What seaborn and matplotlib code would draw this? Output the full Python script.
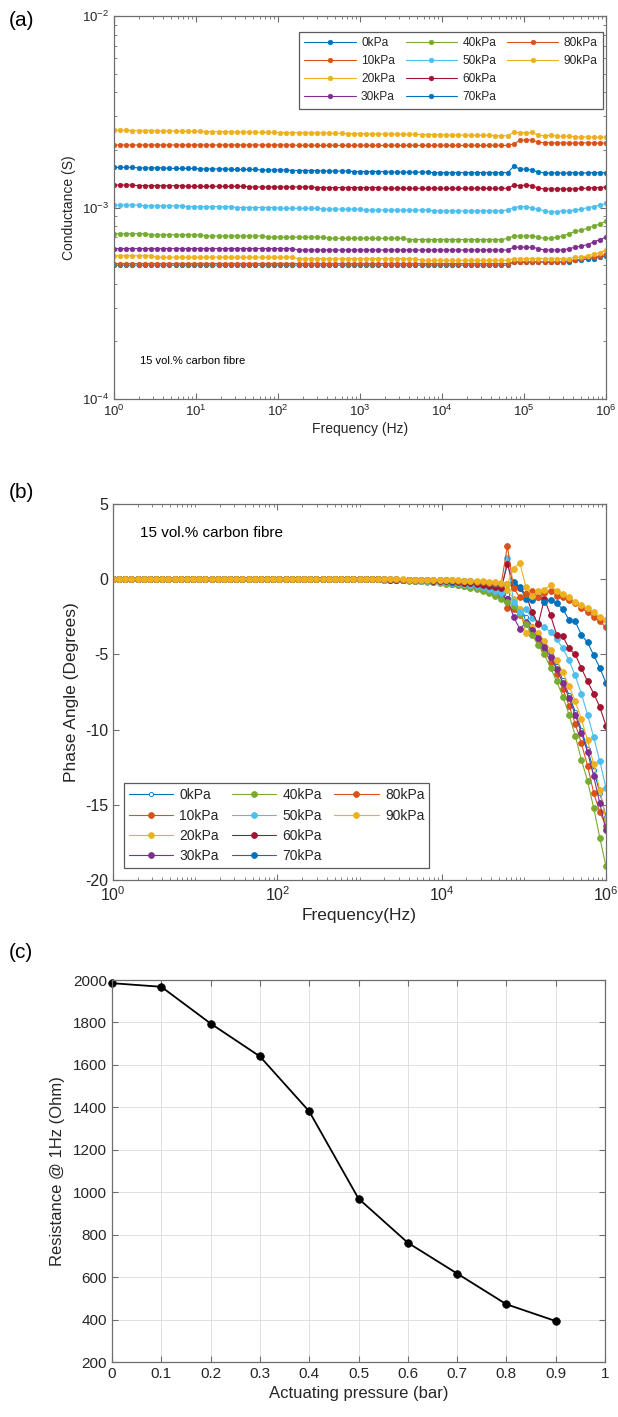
import numpy as np
import matplotlib
matplotlib.use("Agg")
import matplotlib.pyplot as plt
from matplotlib.lines import Line2D
import seaborn as sns
from matplotlib.ticker import (LogLocator, NullFormatter, FixedLocator,
                               LogFormatterSciNotation, MultipleLocator,
                               FuncFormatter)

# ---------------------------------------------------------------- data
# frequency sweep (log-spaced, 1 Hz .. 1 MHz)
freq_hz = np.logspace(0, 6, 81)

pressure_kpa = [0, 10, 20, 30, 40, 50, 60, 70, 80, 90]
series_labels = [f"{p}kPa" for p in pressure_kpa]
line_colors = ["#0072BD", "#D95319", "#EDB120", "#7E2F8E", "#77AC30",
               "#4DBEEE", "#A2142F", "#0072BD", "#D95319", "#EDB120"]

# conductance, mS
g_0kpa = [
    0.50, 0.50, 0.50, 0.50, 0.50, 0.50, 0.50, 0.50, 0.50, 0.50,
    0.50, 0.50, 0.50, 0.50, 0.50, 0.50, 0.50, 0.50, 0.50, 0.50,
    0.50, 0.50, 0.50, 0.50, 0.50, 0.50, 0.50, 0.50, 0.50, 0.50,
    0.50, 0.50, 0.50, 0.50, 0.50, 0.50, 0.50, 0.50, 0.50, 0.50,
    0.50, 0.50, 0.50, 0.50, 0.50, 0.50, 0.50, 0.50, 0.50, 0.50,
    0.50, 0.50, 0.50, 0.50, 0.50, 0.50, 0.50, 0.50, 0.50, 0.50,
    0.50, 0.50, 0.50, 0.50, 0.50,
    0.52, 0.52, 0.52, 0.52, 0.52, 0.52,
    0.52, 0.52, 0.52, 0.52, 0.53, 0.53, 0.54, 0.54, 0.55, 0.56]
g_10kpa = [
    0.51, 0.51, 0.51, 0.51, 0.51, 0.51, 0.51, 0.51, 0.51, 0.51,
    0.51, 0.51, 0.51, 0.51, 0.51, 0.51, 0.51, 0.51, 0.51, 0.51,
    0.51, 0.51, 0.51, 0.51, 0.51, 0.51, 0.51, 0.51, 0.51, 0.51,
    0.51, 0.51, 0.51, 0.51, 0.51, 0.51, 0.51, 0.51, 0.51, 0.51,
    0.51, 0.51, 0.51, 0.51, 0.51, 0.51, 0.51, 0.51, 0.51, 0.51,
    0.51, 0.51, 0.51, 0.51, 0.51, 0.51, 0.51, 0.51, 0.51, 0.51,
    0.51, 0.51, 0.51, 0.51, 0.51,
    0.52, 0.52, 0.52, 0.52, 0.52, 0.52,
    0.52, 0.52, 0.52, 0.53, 0.53, 0.54, 0.55, 0.55, 0.56, 0.57]
g_20kpa = [
    0.56, 0.56, 0.56, 0.56, 0.56, 0.56, 0.56, 0.55, 0.55, 0.55,
    0.55, 0.55, 0.55, 0.55, 0.55, 0.55, 0.55, 0.55, 0.55, 0.55,
    0.55, 0.55, 0.55, 0.55, 0.55, 0.55, 0.55, 0.55, 0.55, 0.55,
    0.54, 0.54, 0.54, 0.54, 0.54, 0.54, 0.54, 0.54, 0.54, 0.54,
    0.54, 0.54, 0.54, 0.54, 0.54, 0.54, 0.54, 0.54, 0.54, 0.54,
    0.53, 0.53, 0.53, 0.53, 0.53, 0.53, 0.53, 0.53, 0.53, 0.53,
    0.53, 0.53, 0.53, 0.53, 0.53,
    0.54, 0.54, 0.54, 0.54,
    0.54, 0.54, 0.54, 0.54, 0.54, 0.54, 0.55, 0.55, 0.56, 0.57, 0.58, 0.60]
g_30kpa = [
    0.61, 0.61, 0.61, 0.61, 0.61, 0.61, 0.61, 0.61, 0.61, 0.61,
    0.61, 0.61, 0.61, 0.61, 0.61, 0.61, 0.61, 0.61, 0.61, 0.61,
    0.61, 0.61, 0.61, 0.61, 0.61, 0.61, 0.61, 0.61, 0.61, 0.61,
    0.60, 0.60, 0.60, 0.60, 0.60, 0.60, 0.60, 0.60, 0.60, 0.60,
    0.60, 0.60, 0.60, 0.60, 0.60, 0.60, 0.60, 0.60, 0.60, 0.60,
    0.60, 0.60, 0.60, 0.60, 0.60, 0.60, 0.60, 0.60, 0.60, 0.60,
    0.60, 0.60, 0.60, 0.60, 0.60,
    0.62, 0.62, 0.62, 0.62,
    0.61, 0.60, 0.60, 0.60, 0.60, 0.61, 0.62, 0.63, 0.64, 0.66, 0.68, 0.70]
g_40kpa = [
    0.73, 0.73, 0.73, 0.73, 0.73, 0.73, 0.72, 0.72, 0.72, 0.72,
    0.72, 0.72, 0.72, 0.72, 0.72, 0.71, 0.71, 0.71, 0.71, 0.71,
    0.71, 0.71, 0.71, 0.71, 0.71, 0.70, 0.70, 0.70, 0.70, 0.70,
    0.70, 0.70, 0.70, 0.70, 0.70, 0.69, 0.69, 0.69, 0.69, 0.69,
    0.69, 0.69, 0.69, 0.69, 0.69, 0.69, 0.69, 0.69, 0.68, 0.68,
    0.68, 0.68, 0.68, 0.68, 0.68, 0.68, 0.68, 0.68, 0.68, 0.68,
    0.68, 0.68, 0.68, 0.68, 0.69,
    0.71, 0.71, 0.71, 0.71,
    0.70, 0.69, 0.69, 0.70, 0.71, 0.73, 0.75, 0.76, 0.78, 0.80, 0.82, 0.85]
g_50kpa = [
    1.03, 1.03, 1.03, 1.03, 1.03, 1.02, 1.02, 1.02, 1.02, 1.02,
    1.02, 1.02, 1.01, 1.01, 1.01, 1.01, 1.01, 1.01, 1.01, 1.01,
    1.00, 1.00, 1.00, 1.00, 1.00, 1.00, 1.00, 0.99, 0.99, 0.99,
    0.99, 0.99, 0.99, 0.99, 0.98, 0.98, 0.98, 0.98, 0.98, 0.98,
    0.98, 0.97, 0.97, 0.97, 0.97, 0.97, 0.97, 0.97, 0.97, 0.97,
    0.97, 0.97, 0.96, 0.96, 0.96, 0.96, 0.96, 0.96, 0.96, 0.96,
    0.96, 0.96, 0.96, 0.96, 0.97,
    1.00, 1.01, 1.01, 0.99,
    0.98, 0.96, 0.95, 0.95, 0.96, 0.96, 0.97, 0.98, 1.00, 1.01, 1.03, 1.05]
g_60kpa = [
    1.31, 1.31, 1.31, 1.31, 1.30, 1.30, 1.30, 1.30, 1.30, 1.30,
    1.30, 1.30, 1.29, 1.29, 1.29, 1.29, 1.29, 1.29, 1.29, 1.29,
    1.29, 1.29, 1.28, 1.28, 1.28, 1.28, 1.28, 1.28, 1.28, 1.28,
    1.28, 1.28, 1.28, 1.27, 1.27, 1.27, 1.27, 1.27, 1.27, 1.27,
    1.27, 1.27, 1.27, 1.27, 1.26, 1.26, 1.26, 1.26, 1.26, 1.26,
    1.26, 1.26, 1.26, 1.26, 1.26, 1.26, 1.26, 1.26, 1.26, 1.26,
    1.26, 1.26, 1.26, 1.26, 1.26,
    1.31, 1.30, 1.31, 1.30,
    1.26, 1.25, 1.25, 1.25, 1.25, 1.25, 1.25, 1.26, 1.26, 1.27, 1.27, 1.28]
g_70kpa = [
    1.62, 1.62, 1.62, 1.62, 1.61, 1.61, 1.61, 1.61, 1.61, 1.60,
    1.60, 1.60, 1.60, 1.60, 1.59, 1.59, 1.59, 1.59, 1.59, 1.58,
    1.58, 1.58, 1.58, 1.58, 1.57, 1.57, 1.57, 1.57, 1.57, 1.56,
    1.56, 1.56, 1.56, 1.56, 1.55, 1.55, 1.55, 1.55, 1.55, 1.54,
    1.54, 1.54, 1.54, 1.54, 1.54, 1.53, 1.53, 1.53, 1.53, 1.53,
    1.53, 1.53, 1.52, 1.52, 1.52, 1.52, 1.52, 1.52, 1.52, 1.52,
    1.52, 1.52, 1.52, 1.52, 1.52,
    1.64, 1.59, 1.58, 1.57,
    1.53, 1.52, 1.51, 1.52, 1.51, 1.52, 1.52, 1.51, 1.52, 1.52, 1.52, 1.52]
g_80kpa = [
    2.12, 2.12, 2.12, 2.12, 2.12, 2.12, 2.12, 2.12, 2.12, 2.12,
    2.12, 2.12, 2.12, 2.12, 2.12, 2.12, 2.12, 2.12, 2.12, 2.12,
    2.12, 2.12, 2.12, 2.12, 2.12, 2.12, 2.12, 2.12, 2.12, 2.12,
    2.11, 2.11, 2.11, 2.11, 2.11, 2.11, 2.11, 2.11, 2.11, 2.11,
    2.11, 2.11, 2.11, 2.11, 2.11, 2.11, 2.11, 2.11, 2.11, 2.11,
    2.11, 2.11, 2.11, 2.11, 2.11, 2.11, 2.11, 2.11, 2.11, 2.11,
    2.11, 2.11, 2.11, 2.11, 2.11,
    2.15, 2.24, 2.26, 2.25,
    2.19, 2.18, 2.18, 2.17, 2.18, 2.17, 2.17, 2.17, 2.18, 2.17, 2.17, 2.17]
g_90kpa = [
    2.53, 2.53, 2.53, 2.52, 2.52, 2.52, 2.52, 2.51, 2.51, 2.51,
    2.51, 2.50, 2.50, 2.50, 2.50, 2.49, 2.49, 2.49, 2.49, 2.48,
    2.48, 2.48, 2.48, 2.47, 2.47, 2.47, 2.47, 2.46, 2.46, 2.46,
    2.46, 2.45, 2.45, 2.45, 2.45, 2.44, 2.44, 2.44, 2.43, 2.43,
    2.43, 2.43, 2.42, 2.42, 2.42, 2.42, 2.41, 2.41, 2.41, 2.41,
    2.40, 2.40, 2.40, 2.40, 2.39, 2.39, 2.39, 2.39, 2.38, 2.38,
    2.38, 2.38, 2.37, 2.37, 2.37,
    2.47, 2.46, 2.45, 2.47,
    2.38, 2.37, 2.38, 2.36, 2.35, 2.36, 2.34, 2.33, 2.34, 2.33, 2.33, 2.33]

# phase angle, degrees
ph_0kpa = [
    0, 0, 0, 0, 0, 0, 0, 0, 0, 0, 0, 0, 0, 0, 0, 0, 0, 0, 0, 0, 0, 0,
    0, 0, 0, 0, 0, 0, 0, 0, 0, 0, 0, 0, 0, 0, 0, 0, 0, 0, 0, 0, 0, 0,
    -0.02, -0.03, -0.04, -0.05, -0.07, -0.08, -0.10, -0.11, -0.14, -0.17,
    -0.21, -0.25, -0.29, -0.35, -0.42, -0.49, -0.58, -0.68, -0.81, -0.95,
    -1.00, -1.50, -2.00, -2.50, -3.10, -3.70, -4.30, -5.00, -5.80, -6.70,
    -7.70, -8.80, -10.00, -11.30, -12.70, -14.20, -15.80]
ph_10kpa = [
    0, 0, 0, 0, 0, 0, 0, 0, 0, 0, 0, 0, 0, 0, 0, 0, 0, 0, 0, 0, 0, 0,
    0, 0, 0, 0, 0, 0, 0, 0, 0, 0, 0, 0, 0, 0, 0, 0, 0, 0, 0, 0, 0, 0,
    -0.02, -0.03, -0.04, -0.06, -0.08, -0.09, -0.11, -0.13, -0.17, -0.20,
    -0.24, -0.29, -0.34, -0.41, -0.48, -0.57, -0.67, -0.79, -0.94, -1.10,
    -1.90, -2.00, -2.40, -2.90, -3.40, -4.00, -4.70, -5.50, -6.30, -7.30,
    -8.40, -9.60, -10.90, -12.40, -14.20, -15.50, -16.40]
ph_20kpa = [
    0, 0, 0, 0, 0, 0, 0, 0, 0, 0, 0, 0, 0, 0, 0, 0, 0, 0, 0, 0, 0, 0,
    0, 0, 0, 0, 0, 0, 0, 0, 0, 0, 0, 0, 0, 0, 0, 0, 0, 0, 0, 0, 0, 0,
    -0.02, -0.03, -0.03, -0.04, -0.06, -0.07, -0.09, -0.10, -0.13, -0.15,
    -0.19, -0.22, -0.26, -0.31, -0.37, -0.44, -0.52, -0.61, -0.72, -0.85,
    -0.70, -1.30, -2.00, -3.60, -3.20, -3.60, -4.10, -4.70, -5.40, -6.20,
    -7.10, -8.10, -9.30, -10.70, -12.30, -14.00, -16.00]
ph_30kpa = [
    0, 0, 0, 0, 0, 0, 0, 0, 0, 0, 0, 0, 0, 0, 0, 0, 0, 0, 0, 0, 0, 0,
    0, 0, 0, 0, 0, 0, 0, 0, 0, 0, 0, 0, 0, 0, 0, 0, 0, 0, 0, 0, 0, 0,
    -0.02, -0.03, -0.05, -0.06, -0.08, -0.09, -0.12, -0.14, -0.17, -0.21,
    -0.25, -0.30, -0.36, -0.43, -0.51, -0.60, -0.70, -0.83, -0.98, -1.15,
    -1.30, -2.50, -3.30, -2.90, -3.40, -3.90, -4.50, -5.20, -6.00, -6.90,
    -7.90, -9.00, -10.20, -11.50, -13.10, -14.90, -16.70]
ph_40kpa = [
    0, 0, 0, 0, 0, 0, 0, 0, 0, 0, 0, 0, 0, 0, 0, 0, 0, 0, 0, 0, 0, 0,
    0, 0, 0, 0, 0, 0, 0, 0, 0, 0, 0, 0, 0, 0, 0, 0, 0, 0, 0, 0, 0, 0,
    -0.03, -0.04, -0.05, -0.07, -0.09, -0.10, -0.13, -0.16, -0.20, -0.23,
    -0.29, -0.34, -0.40, -0.48, -0.57, -0.68, -0.79, -0.94, -1.10, -1.30,
    -1.50, -1.80, -2.30, -3.00, -3.70, -4.40, -5.00, -5.90, -6.80, -7.80,
    -9.00, -10.40, -12.00, -13.40, -15.20, -17.20, -19.10]
ph_50kpa = [
    0, 0, 0, 0, 0, 0, 0, 0, 0, 0, 0, 0, 0, 0, 0, 0, 0, 0, 0, 0, 0, 0,
    0, 0, 0, 0, 0, 0, 0, 0, 0, 0, 0, 0, 0, 0, 0, 0, 0, 0, 0, 0, 0, 0,
    -0.02, -0.03, -0.04, -0.05, -0.06, -0.07, -0.09, -0.11, -0.14, -0.16,
    -0.20, -0.23, -0.28, -0.33, -0.40, -0.47, -0.55, -0.65, -0.77, -0.90,
    1.40, -1.50, -2.20, -2.00, -2.60, -2.90, -3.20, -3.50, -4.00, -4.60,
    -5.40, -6.40, -7.60, -9.00, -10.50, -12.10, -13.90]
ph_60kpa = [
    0, 0, 0, 0, 0, 0, 0, 0, 0, 0, 0, 0, 0, 0, 0, 0, 0, 0, 0, 0, 0, 0,
    0, 0, 0, 0, 0, 0, 0, 0, 0, 0, 0, 0, 0, 0, 0, 0, 0, 0, 0, 0, 0, 0,
    -0.01, -0.02, -0.02, -0.03, -0.04, -0.05, -0.06, -0.07, -0.09, -0.11,
    -0.13, -0.16, -0.19, -0.22, -0.26, -0.31, -0.37, -0.43, -0.51, -0.60,
    1.00, -0.40, -0.60, -1.00, -2.20, -3.00, -1.30, -2.40, -3.70, -3.80,
    -4.60, -5.00, -5.90, -6.80, -7.60, -8.50, -9.75]
ph_70kpa = [
    0, 0, 0, 0, 0, 0, 0, 0, 0, 0, 0, 0, 0, 0, 0, 0, 0, 0, 0, 0, 0, 0,
    0, 0, 0, 0, 0, 0, 0, 0, 0, 0, 0, 0, 0, 0, 0, 0, 0, 0, 0, 0, 0, 0,
    -0.01, -0.01, -0.01, -0.02, -0.02, -0.03, -0.04, -0.04, -0.05, -0.06,
    -0.08, -0.09, -0.11, -0.13, -0.15, -0.18, -0.21, -0.25, -0.30, -0.35,
    -0.30, -0.20, -0.50, -1.30, -1.40, -1.20, -1.50, -1.40, -1.60, -2.00,
    -2.70, -2.80, -3.70, -4.20, -5.05, -5.90, -6.90]
ph_80kpa = [
    0, 0, 0, 0, 0, 0, 0, 0, 0, 0, 0, 0, 0, 0, 0, 0, 0, 0, 0, 0, 0, 0,
    0, 0, 0, 0, 0, 0, 0, 0, 0, 0, 0, 0, 0, 0, 0, 0, 0, 0, 0, 0, 0, 0,
    -0.01, -0.01, -0.01, -0.02, -0.02, -0.02, -0.03, -0.04, -0.05, -0.05,
    -0.07, -0.08, -0.09, -0.11, -0.13, -0.16, -0.18, -0.22, -0.26, -0.30,
    2.20, -0.60, -1.20, -1.00, -0.80, -1.20, -0.90, -0.80, -1.10, -1.20,
    -1.40, -1.60, -1.90, -2.20, -2.50, -2.80, -3.20]
ph_90kpa = [
    0, 0, 0, 0, 0, 0, 0, 0, 0, 0, 0, 0, 0, 0, 0, 0, 0, 0, 0, 0, 0, 0,
    0, 0, 0, 0, 0, 0, 0, 0, 0, 0, 0, 0, 0, 0, 0, 0, 0, 0, 0, 0, 0, 0,
    -0.01, -0.01, -0.01, -0.01, -0.02, -0.02, -0.03, -0.03, -0.04, -0.05,
    -0.06, -0.07, -0.08, -0.09, -0.11, -0.13, -0.15, -0.18, -0.21, -0.25,
    -0.30, 0.70, 1.10, -0.50, -1.10, -0.80, -0.70, -0.40, -0.80, -1.00,
    -1.20, -1.50, -1.70, -1.90, -2.20, -2.50, -2.70]

conductance_ms = [g_0kpa, g_10kpa, g_20kpa, g_30kpa, g_40kpa,
                  g_50kpa, g_60kpa, g_70kpa, g_80kpa, g_90kpa]
phase_deg = [ph_0kpa, ph_10kpa, ph_20kpa, ph_30kpa, ph_40kpa,
             ph_50kpa, ph_60kpa, ph_70kpa, ph_80kpa, ph_90kpa]

# resistance at 1 Hz vs actuating pressure
pressure_bar = [0.0, 0.1, 0.2, 0.3, 0.4, 0.5, 0.6, 0.7, 0.8, 0.9]
resistance_ohm = [1985, 1968, 1795, 1640, 1381, 970, 762, 617, 472, 393]

# ---------------------------------------------------------------- style
sns.set_style("ticks")
plt.rcParams["font.family"] = ["Liberation Sans", "DejaVu Sans"]
plt.rcParams["mathtext.fontset"] = "custom"
plt.rcParams["mathtext.rm"] = "Liberation Sans"
plt.rcParams["mathtext.it"] = "Liberation Sans:italic"
plt.rcParams["mathtext.bf"] = "Liberation Sans:bold"
plt.rcParams["axes.unicode_minus"] = False

EDGE = "#6e6e6e"
TXT = "#262626"

W, H = 618, 1417
fig = plt.figure(figsize=(W / 100, H / 100), dpi=100)


def add_axes_px(left, top, right, bottom):
    return fig.add_axes([left / W, 1 - bottom / H, (right - left) / W,
                         (bottom - top) / H])


def box_style(ax, tick_size):
    for s in ax.spines.values():
        s.set_visible(True)
        s.set_color(EDGE)
        s.set_linewidth(0.9)
    ax.tick_params(which="both", direction="in", top=True, right=True,
                   color=EDGE, labelcolor=TXT, labelsize=tick_size)
    ax.tick_params(which="major", length=4, width=0.8)
    ax.tick_params(which="minor", length=2.2, width=0.6)


def legend_box(ax, handles, **kw):
    # three columns filled 4 / 4 / 2, as a column-major grid of 12 slots
    blank = Line2D([], [], linestyle="none", marker=None)
    hs = list(handles) + [blank, blank]
    ls = list(series_labels) + ["", ""]
    leg = ax.legend(hs, ls, ncol=3, numpoints=1, fancybox=False,
                    framealpha=1, borderaxespad=0, **kw)
    leg.get_frame().set_edgecolor("#5a5a5a")
    leg.get_frame().set_linewidth(0.9)
    for t in leg.get_texts():
        t.set_color(TXT)
    return leg


# ---------------------------------------------------------------- (a)
ax_a = add_axes_px(114, 16, 606, 399)
handles_a = []
for vals, col in zip(conductance_ms, line_colors):
    sns.lineplot(x=freq_hz, y=np.array(vals) * 1e-3, ax=ax_a, color=col,
                 marker="o", markersize=3.4, markeredgecolor=col,
                 markeredgewidth=0.4, linewidth=0.8, errorbar=None)
    handles_a.append(ax_a.lines[-1])
ax_a.set_xscale("log")
ax_a.set_yscale("log")
ax_a.set_xlim(1, 1e6)
ax_a.set_ylim(1e-4, 1e-2)
ax_a.xaxis.set_major_locator(LogLocator(base=10, numticks=20))
ax_a.xaxis.set_minor_locator(LogLocator(base=10, subs=np.arange(2, 10), numticks=100))
ax_a.xaxis.set_minor_formatter(NullFormatter())
ax_a.yaxis.set_major_locator(LogLocator(base=10, numticks=20))
ax_a.yaxis.set_minor_locator(LogLocator(base=10, subs=np.arange(2, 10), numticks=100))
ax_a.yaxis.set_minor_formatter(NullFormatter())
box_style(ax_a, 9.5)
ax_a.set_xlabel("Frequency (Hz)", fontsize=10, color=TXT, labelpad=2)
ax_a.set_ylabel("Conductance (S)", fontsize=10, color=TXT, labelpad=4)
ax_a.text(0.053, 0.099, "15 vol.% carbon fibre", transform=ax_a.transAxes,
          fontsize=8, color="black", ha="left", va="center")
legend_box(ax_a, handles_a, loc="upper right", bbox_to_anchor=(0.994, 0.958),
           fontsize=8.6, handlelength=4.3, columnspacing=0.9,
           labelspacing=0.5, handletextpad=0.45, borderpad=0.45)

# ---------------------------------------------------------------- (b)
ax_b = add_axes_px(113, 504, 606, 880)
handles_b = []
for k, (vals, col) in enumerate(zip(phase_deg, line_colors)):
    face = "white" if k == 0 else col
    ms = 3.0 if k == 0 else 4.2
    sns.lineplot(x=freq_hz, y=vals, ax=ax_b, color=col, marker="o",
                 markersize=ms, markeredgecolor=col, markerfacecolor=face,
                 markeredgewidth=0.6, linewidth=0.8, errorbar=None)
    handles_b.append(ax_b.lines[-1])
ax_b.set_xscale("log")
ax_b.set_xlim(1, 1e6)
ax_b.set_ylim(-20, 5)
ax_b.xaxis.set_major_locator(FixedLocator([1, 1e2, 1e4, 1e6]))
ax_b.xaxis.set_major_formatter(LogFormatterSciNotation())
ax_b.xaxis.set_minor_locator(LogLocator(base=10, subs=np.arange(1, 10), numticks=100))
ax_b.xaxis.set_minor_formatter(NullFormatter())
ax_b.yaxis.set_major_locator(MultipleLocator(5))
box_style(ax_b, 11.5)
ax_b.set_xlabel("Frequency(Hz)", fontsize=12.5, color=TXT, labelpad=3)
ax_b.set_ylabel("Phase Angle (Degrees)", fontsize=12.5, color=TXT, labelpad=4)
ax_b.text(0.055, 0.923, "15 vol.% carbon fibre", transform=ax_b.transAxes,
          fontsize=11, color="black", ha="left", va="center")
legend_box(ax_b, handles_b, loc="lower left", bbox_to_anchor=(0.022, 0.032),
           fontsize=10, handlelength=3.2, columnspacing=0.9,
           labelspacing=0.45, handletextpad=0.45, borderpad=0.35)

# ---------------------------------------------------------------- (c)
ax_c = add_axes_px(112, 980, 605, 1362)
sns.lineplot(x=pressure_bar, y=resistance_ohm, ax=ax_c, color="black",
             marker="o", markersize=5.5, markeredgecolor="black",
             markeredgewidth=0.5, linewidth=1.3, errorbar=None, clip_on=False)
ax_c.set_xlim(0, 1)
ax_c.set_ylim(200, 2000)
ax_c.xaxis.set_major_locator(MultipleLocator(0.1))
ax_c.yaxis.set_major_locator(MultipleLocator(200))
ax_c.xaxis.set_major_formatter(FuncFormatter(
    lambda v, p: "0" if abs(v) < 1e-9 else ("1" if abs(v - 1) < 1e-9 else f"{v:.1f}")))
ax_c.grid(True, color="#dcdcdc", linewidth=0.6)
ax_c.set_axisbelow(True)
box_style(ax_c, 11)
ax_c.set_xlabel("Actuating pressure (bar)", fontsize=12, color=TXT, labelpad=4)
ax_c.set_ylabel("Resistance @ 1Hz (Ohm)", fontsize=12, color=TXT, labelpad=6)

# ---------------------------------------------------------------- panel tags
for tag, ypx in (("(a)", 20), ("(b)", 492), ("(c)", 952)):
    fig.text(9 / W, 1 - ypx / H, tag, fontsize=15, color="black",
             ha="left", va="center")

fig.savefig("out.png", dpi=100)
